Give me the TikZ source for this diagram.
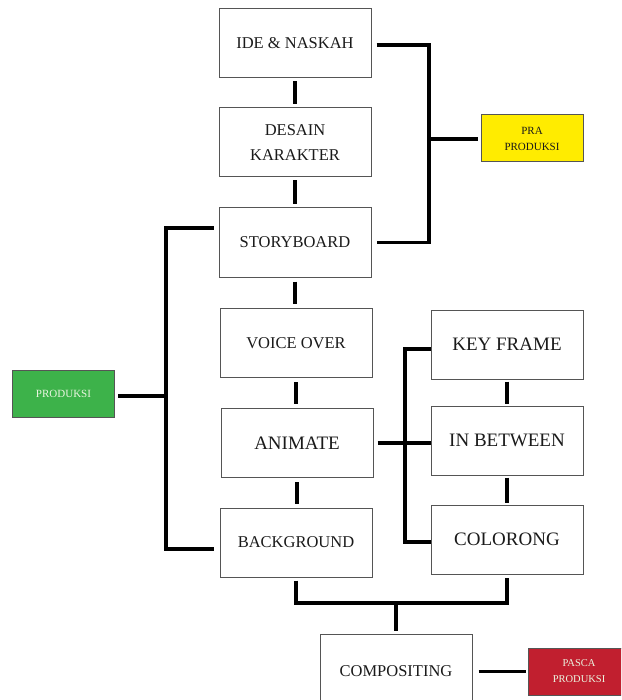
\documentclass[tikz,border=0pt]{standalone}
\usepackage{fontspec}
\setmainfont{Liberation Serif}
\usetikzlibrary{calc}
\definecolor{boxline}{HTML}{555555}
\definecolor{txt}{HTML}{1A1A1A}
\definecolor{prayellow}{HTML}{FFEC00}
\definecolor{prodgreen}{HTML}{3DB24A}
\definecolor{pascared}{HTML}{C11F2F}
\definecolor{lighttxt}{HTML}{EAF5E0}
\begin{document}
\begin{tikzpicture}[x=1pt,y=-1pt,
  box/.style={draw=boxline, line width=1pt, fill=white, minimum width=152pt, minimum height=69pt, inner sep=0pt, align=center, font=\fontsize{16.5}{25}\selectfont, text=txt},
  bigbox/.style={box, font=\fontsize{19}{25}\selectfont},
  tag/.style={draw=boxline, line width=1pt, minimum width=102pt, minimum height=47pt, inner sep=0pt, align=center, font=\fontsize{11}{16}\selectfont},
  conn/.style={line width=3.8pt, line join=miter}]
\useasboundingbox (0,0) rectangle (621,700);
\clip (0,0) rectangle (621,700);
\fill[white] (0,0) rectangle (621,700);

% main column
\node[box] (ide) at (295,43.5) {IDE \& NASKAH};
\node[box] (desain) at (295,142.5) {DESAIN\\KARAKTER};
\node[box] (story) at (295,242.5) {STORYBOARD};
\node[box] (voice) at (296,343) {VOICE OVER};
\node[bigbox] (animate) at (297,443) {ANIMATE};
\node[box] (bg) at (296,542.5) {BACKGROUND};
\node[box, minimum height=75pt] (comp) at (396,671.5) {COMPOSITING};

% right column
\node[bigbox] (key) at (507,344.5) {KEY FRAME};
\node[bigbox] (inb) at (507,440.5) {IN BETWEEN};
\node[bigbox] (col) at (507,539.5) {COLORONG};

% phase tags
\node[tag, fill=prayellow, text=txt] (pra) at (532,138.5) {PRA\\PRODUKSI};
\node[tag, fill=prodgreen, text=lighttxt] (prod) at (63.5,393.5) {PRODUKSI};
\node[tag, fill=pascared, text=lighttxt, font=\fontsize{10.5}{16}\selectfont] (pasca) at (579,671.5) {PASCA\\PRODUKSI};

% junction coordinates
\coordinate (pj) at (429,139);
\coordinate (dj) at (166,396);
\coordinate (aj) at (405,444);
\coordinate (bj) at (396,603);

% vertical chain
\draw[conn, shorten <=3pt, shorten >=3pt] (ide) -- (desain);
\draw[conn, shorten <=3pt, shorten >=3pt] (desain) -- (story);
\draw[conn, shorten <=4pt, shorten >=4pt] (story.south) -- (story.south |- voice.north);
\draw[conn, shorten <=4pt, shorten >=4pt] (voice.south) -- (voice.south |- animate.north);
\draw[conn, shorten <=4pt, shorten >=4pt] (animate.south) -- (animate.south |- bg.north);
\draw[conn, shorten <=2pt, shorten >=2pt] (key) -- (inb);
\draw[conn, shorten <=2pt, shorten >=2pt] (inb) -- (col);

% pra produksi bracket
\draw[conn] ([xshift=5pt,yshift=-1.5pt]ide.east) -| (pj |- story.east) -- ([xshift=5pt]story.east);
\draw[conn] (pj) -- ([xshift=-3pt]pra.west |- pj);

% produksi bracket
\draw[conn] ([xshift=3pt,yshift=-2.5pt]prod.east) -- (dj);
\draw[conn] ([xshift=-5pt,yshift=14.5pt]story.west) -| (dj) |- ([xshift=-6pt,yshift=-6.5pt]bg.west);

% animate branches
\draw[conn] ([xshift=4pt]animate.east) -- (animate.east -| inb.west);
\draw[conn] ([yshift=-4.5pt]key.west) -| (aj) |- ([yshift=-2.5pt]col.west);

% compositing merge
\draw[conn] ([yshift=-3pt]bg.south) |- (bj) -| ([yshift=-3pt]col.south);
\draw[conn] (bj) -- ([yshift=3pt]comp.north);
\draw[conn] ([xshift=6pt]comp.east) -- ([xshift=-2pt]pasca.west);
\end{tikzpicture}
\end{document}
